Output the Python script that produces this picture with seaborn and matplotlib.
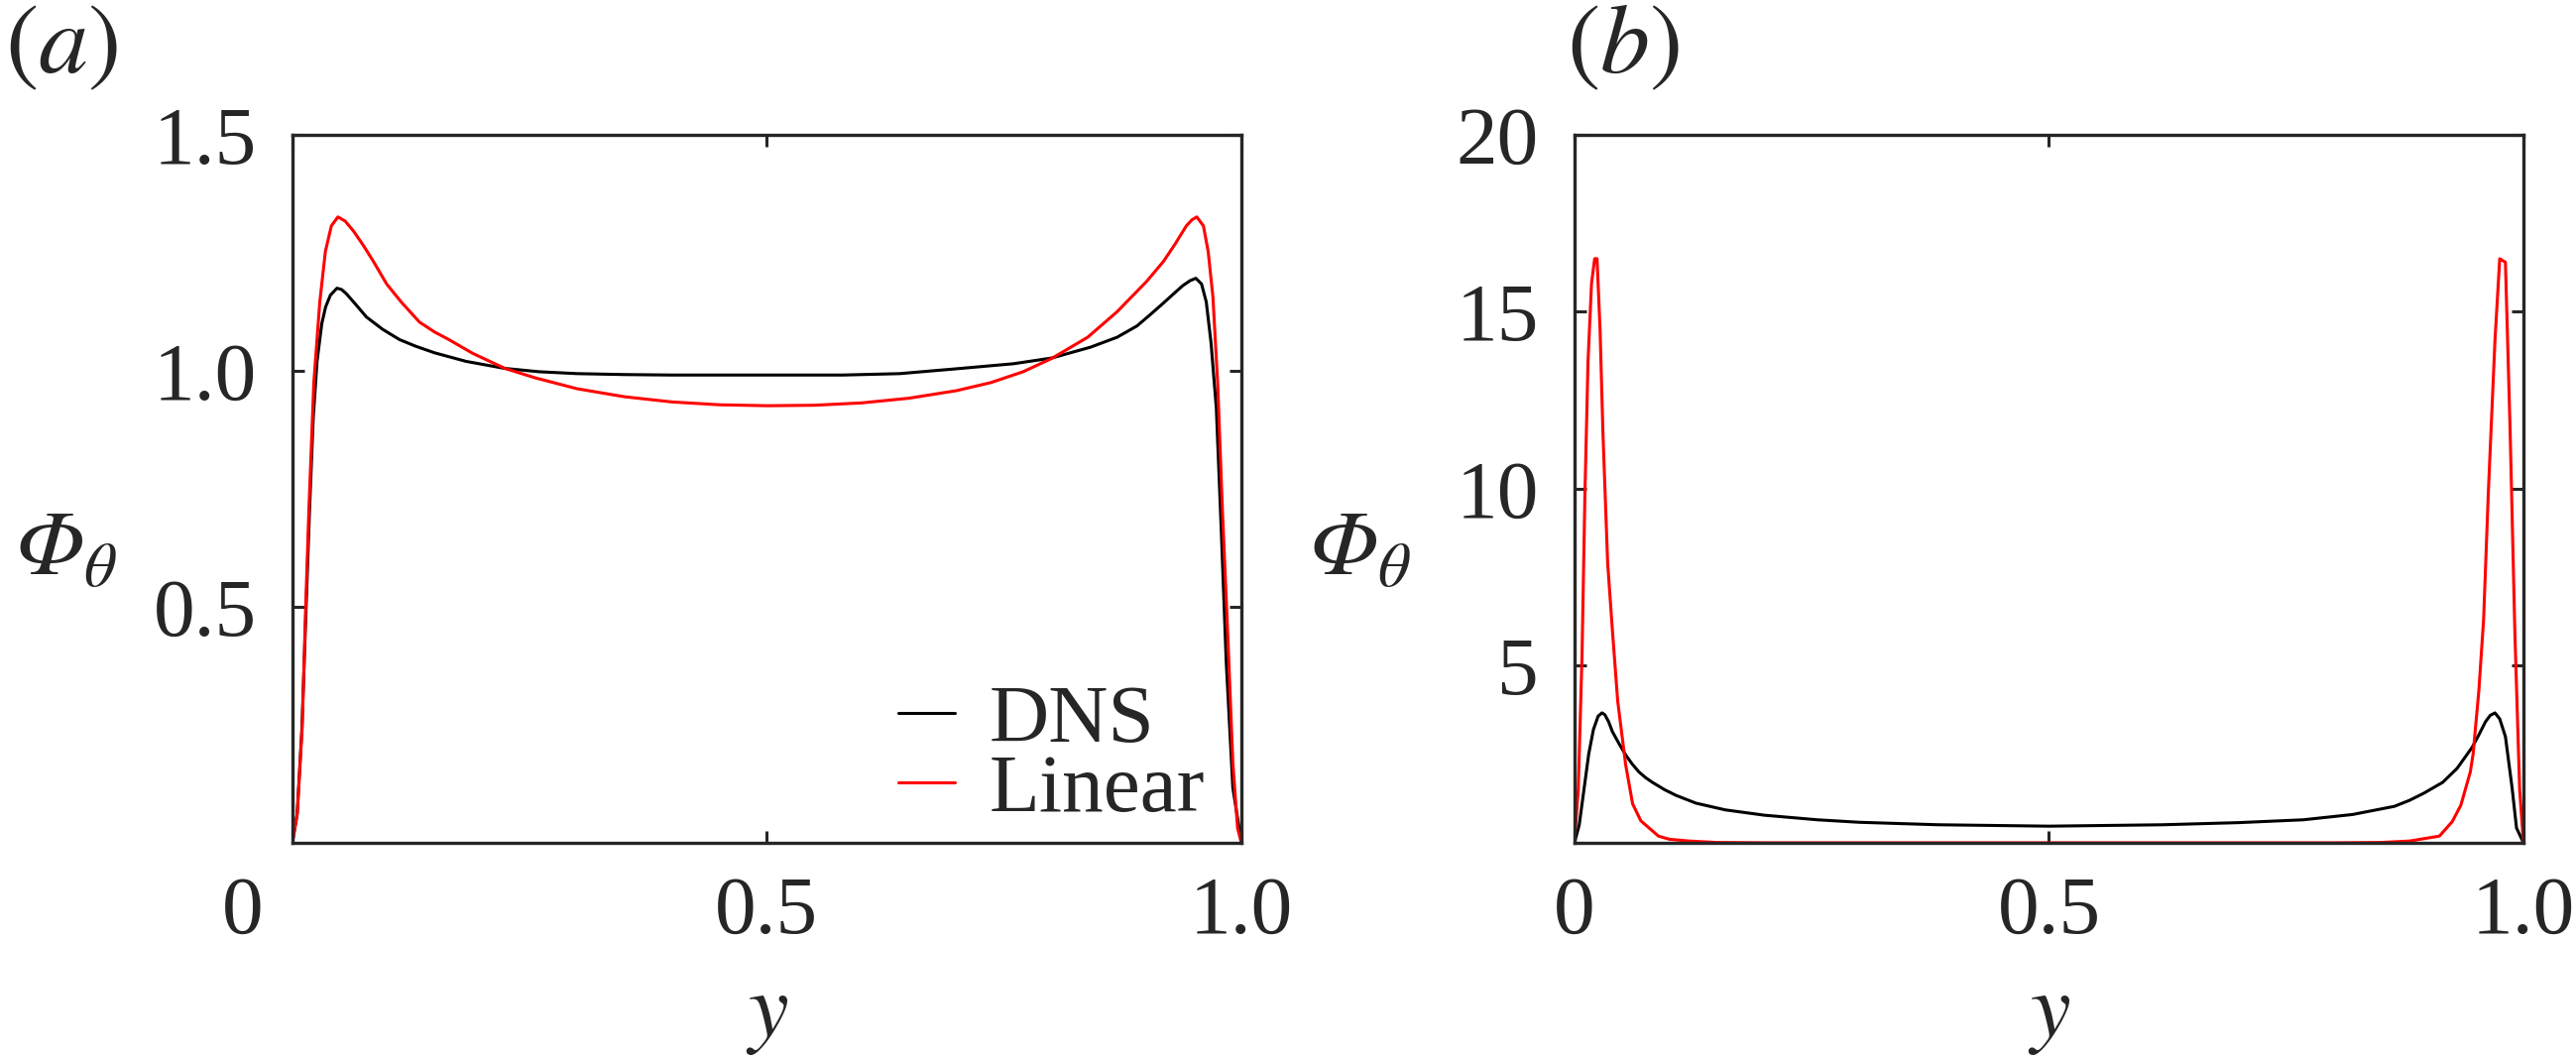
import numpy as np
import pandas as pd
import seaborn as sns
import matplotlib
matplotlib.use("Agg")
import matplotlib.pyplot as plt
from matplotlib.transforms import ScaledTranslation

# ---- data ----
# panel (a)
y_a_dns = [0.000, 0.005, 0.010, 0.014, 0.018, 0.022, 0.026, 0.031, 0.035, 0.040,
           0.047, 0.052, 0.057, 0.067, 0.078, 0.095, 0.113, 0.130, 0.150, 0.183,
           0.224, 0.260, 0.300, 0.350, 0.400, 0.500, 0.580, 0.640, 0.704, 0.760,
           0.800, 0.841, 0.869, 0.890, 0.904, 0.917, 0.928, 0.938, 0.946, 0.952,
           0.958, 0.963, 0.968, 0.9736, 0.979, 0.984, 0.991, 1.000]
phi_a_dns = [0.000, 0.060, 0.240, 0.470, 0.700, 0.900, 1.020, 1.100, 1.135, 1.160,
             1.175, 1.172, 1.163, 1.140, 1.114, 1.088, 1.066, 1.052, 1.038, 1.020,
             1.005, 0.998, 0.994, 0.992, 0.991, 0.991, 0.991, 0.994, 1.005, 1.015,
             1.027, 1.050, 1.071, 1.095, 1.119, 1.142, 1.162, 1.180, 1.191, 1.196,
             1.184, 1.146, 1.060, 0.921, 0.653, 0.385, 0.117, 0.000]

y_a_lin = [0.000, 0.0052, 0.0104, 0.0139, 0.0174, 0.0226, 0.0289, 0.0348, 0.0411, 0.048,
           0.0557, 0.0644, 0.075, 0.0853, 0.0993, 0.115, 0.134, 0.150, 0.165, 0.190,
           0.224, 0.256, 0.300, 0.350, 0.400, 0.450, 0.500, 0.550, 0.600, 0.650,
           0.700, 0.736, 0.770, 0.800, 0.838, 0.869, 0.900, 0.918, 0.930, 0.942,
           0.948, 0.953, 0.960, 0.965, 0.970, 0.975, 0.980, 0.9857, 0.991, 0.996, 1.000]
phi_a_lin = [0.000, 0.063, 0.246, 0.492, 0.706, 0.975, 1.146, 1.253, 1.307, 1.326,
             1.317, 1.296, 1.265, 1.232, 1.184, 1.145, 1.103, 1.082, 1.066, 1.037,
             1.005, 0.985, 0.962, 0.945, 0.934, 0.928, 0.926, 0.927, 0.932, 0.942,
             0.958, 0.975, 0.998, 1.026, 1.071, 1.125, 1.189, 1.232, 1.268, 1.307,
             1.320, 1.326, 1.307, 1.253, 1.157, 0.975, 0.706, 0.439, 0.171, 0.031, 0.000]

# panel (b)
y_b_dns = [0.000, 0.005, 0.010, 0.015, 0.020, 0.025, 0.029, 0.032, 0.036, 0.040,
           0.047, 0.054, 0.061, 0.068, 0.075, 0.082, 0.095, 0.107, 0.128, 0.159,
           0.200, 0.256, 0.300, 0.383, 0.500, 0.620, 0.700, 0.768, 0.820, 0.864,
           0.880, 0.895, 0.915, 0.930, 0.946, 0.953, 0.960, 0.965, 0.970, 0.975,
           0.981, 0.988, 0.9927, 1.000]
phi_b_dns = [0.00, 0.50, 1.50, 2.50, 3.20, 3.58, 3.67, 3.62, 3.42, 3.14,
             2.80, 2.48, 2.22, 2.00, 1.84, 1.71, 1.50, 1.34, 1.12, 0.93,
             0.78, 0.65, 0.58, 0.51, 0.47, 0.51, 0.57, 0.65, 0.80, 1.03,
             1.20, 1.40, 1.71, 2.10, 2.70, 3.05, 3.42, 3.60, 3.67, 3.50,
             3.00, 1.56, 0.42, 0.00]

y_b_lin = [0.000, 0.004, 0.008, 0.011, 0.0143, 0.018, 0.0213, 0.0238, 0.027, 0.030,
           0.035, 0.040, 0.0456, 0.054, 0.0613, 0.070, 0.0885, 0.100, 0.121, 0.150,
           0.200, 0.500, 0.800, 0.850, 0.880, 0.9115, 0.925, 0.934, 0.944, 0.947,
           0.953, 0.958, 0.963, 0.970, 0.975, 0.981, 0.986, 0.991, 0.996, 1.000]
phi_b_lin = [0.00, 1.50, 5.30, 9.80, 13.60, 15.80, 16.50, 16.50, 14.50, 11.60,
             7.90, 6.00, 4.00, 2.20, 1.10, 0.62, 0.19, 0.10, 0.05, 0.01,
             0.00, 0.00, 0.00, 0.01, 0.05, 0.19, 0.60, 1.06, 2.00, 2.52,
             4.30, 6.30, 9.90, 14.20, 16.50, 16.40, 11.60, 5.90, 1.50, 0.00]

x_ticks = [0, 0.5, 1.0]
x_ticklabels = ["0", "0.5", "1.0"]
a_yticks = [0.5, 1.0, 1.5]
a_yticklabels = ["0.5", "1.0", "1.5"]
b_yticks = [5, 10, 15, 20]
b_yticklabels = ["5", "10", "15", "20"]
series_names = ["DNS", "Linear"]
series_colors = ["black", "#ff0000"]

sns.set_theme(style="ticks")
plt.rcParams["font.family"] = ["Liberation Serif", "STIXGeneral", "DejaVu Serif"]
# italic Greek capitals: mathtext forces capitals to the 'rm' slot, so make it italic
plt.rcParams["mathtext.fontset"] = "custom"
plt.rcParams["mathtext.rm"] = "STIXGeneral:italic"
plt.rcParams["mathtext.it"] = "STIXGeneral:italic"

fs = 60
spine_col = "#262626"

fig = plt.figure(figsize=(25.98, 10.67), dpi=100)
ax_a = fig.add_axes([0.1135, 0.2034, 0.3684, 0.6692])
ax_b = fig.add_axes([0.6112, 0.2034, 0.3684, 0.6692])

panels = [
    (ax_a, [(y_a_dns, phi_a_dns), (y_a_lin, phi_a_lin)], (0, 1.5), a_yticks, a_yticklabels, -0.239),
    (ax_b, [(y_b_dns, phi_b_dns), (y_b_lin, phi_b_lin)], (0, 20), b_yticks, b_yticklabels, -0.226),
]

for ax, curves, ylim, yt, ytl, ylab_x in panels:
    for (yy, pp), name, col in zip(curves, series_names, series_colors):
        df = pd.DataFrame({"y": yy, "phi": pp})
        sns.lineplot(data=df, x="y", y="phi", ax=ax, color=col, lw=2.2,
                     estimator=None, label=name if ax is ax_a else None)
    ax.set_xlim(0, 1)
    ax.set_ylim(*ylim)
    ax.set_xticks(x_ticks)
    ax.set_xticklabels(x_ticklabels)
    ax.set_yticks(yt)
    ax.set_yticklabels(ytl)
    for s in ax.spines.values():
        s.set_visible(True)
        s.set_linewidth(2.4)
        s.set_color(spine_col)
    ax.tick_params(direction="in", length=8.5, width=2.2, color=spine_col,
                   labelsize=fs, top=True, right=True, pad=26)
    ax.tick_params(axis="x", pad=24)
    ax.set_xlabel("$y$", fontsize=66, va="center")
    ax.xaxis.set_label_coords(0.5, -0.245)
    ax.set_ylabel(r"$\Phi_{\theta}$", fontsize=66, rotation=0,
                  ha="center", va="center")
    ax.yaxis.set_label_coords(ylab_x, 0.409)

# the "0" under panel (a) sits left of the corner
lab0 = ax_a.get_xticklabels()[0]
lab0.set_transform(lab0.get_transform() + ScaledTranslation(-0.5, 0, fig.dpi_scale_trans))

leg = ax_a.legend(loc="lower right", bbox_to_anchor=(0.962, 0.02), frameon=False,
                  fontsize=fs, handlelength=0.68, handletextpad=0.42,
                  labelspacing=-0.08, borderpad=0, borderaxespad=0)
for h in leg.get_lines():
    h.set_linewidth(2.2)

fig.text(0.002, 0.995, "($a$)", fontsize=72, ha="left", va="top", family="STIXGeneral")
fig.text(0.608, 0.995, "($b$)", fontsize=72, ha="left", va="top", family="STIXGeneral")

fig.savefig("out.png", dpi=100, facecolor="white")
